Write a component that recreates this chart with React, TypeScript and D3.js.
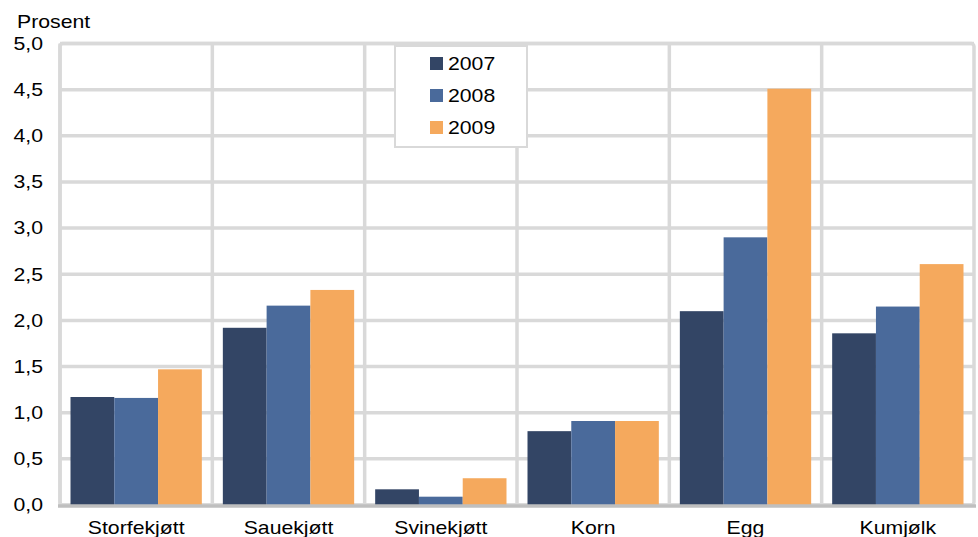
import React from "react";
import * as d3 from "d3";

const categories = ["Storfekjøtt", "Sauekjøtt", "Svinekjøtt", "Korn", "Egg", "Kumjølk"];
const seriesNames = ["2007", "2008", "2009"];
const values2007 = [1.17, 1.92, 0.17, 0.8, 2.1, 1.86];
const values2008 = [1.16, 2.16, 0.09, 0.91, 2.9, 2.15];
const values2009 = [1.47, 2.33, 0.29, 0.91, 4.51, 2.61];
const yTicks = [0, 0.5, 1, 1.5, 2, 2.5, 3, 3.5, 4, 4.5, 5];
const colors = ["#334565", "#4a6a9b", "#f5a95d"];

const SX = 1.18;

function T(props: { x: number; y: number; anchor?: string; children: React.ReactNode }) {
  return (
    <text
      transform={`translate(${props.x},${props.y}) scale(${SX},1)`}
      textAnchor={props.anchor || "start"}
      fontSize={18}
      fill="#000"
    >
      {props.children}
    </text>
  );
}

export default function App() {
  const W = 978, H = 537;
  const left = 60, right = 974, top = 43.5, bottom = 505;
  const series = [values2007, values2008, values2009];
  const x = d3.scaleBand<string>().domain(categories).range([left, right]).padding(0);
  const inner = d3.scaleBand<string>().domain(seriesNames).range([0, x.bandwidth()]).paddingOuter(0.24).paddingInner(0);
  const y = d3.scaleLinear().domain([0, 5]).range([bottom, top]);
  const fmt = (v: number) => v.toFixed(1).replace(".", ",");
  const font = "Liberation Sans, Arial, sans-serif";
  const grid = "#d9d9d9";

  return (
    <svg width={W} height={H} style={{ position: "absolute", left: 0, top: 0 }} fontFamily={font}>
      <rect width={W} height={H} fill="#fff" />
      {yTicks.map((t) => (
        <line key={"h" + t} x1={left} x2={right} y1={y(t)} y2={y(t)} stroke={grid} strokeWidth={3.5} />
      ))}
      {categories.map((c) => (
        <line key={"v" + c} x1={x(c)!} x2={x(c)!} y1={top} y2={bottom} stroke={grid} strokeWidth={3.5} />
      ))}
      <rect x={left} y={top} width={right - left} height={bottom - top} fill="none" stroke={grid} strokeWidth={3.5} rx={3} />
      {categories.map((c, i) =>
        series.map((s, j) => (
          <rect
            key={c + j}
            x={x(c)! + inner(seriesNames[j])!}
            y={y(s[i])}
            width={inner.bandwidth()}
            height={y(0) - y(s[i])}
            fill={colors[j]}
          />
        ))
      )}
      <line x1={left - 2} x2={right + 2} y1={bottom + 1} y2={bottom + 1} stroke="#bfbfbf" strokeWidth={3.5} />
      {yTicks.map((t) => (
        <T key={"t" + t} x={43} y={y(t) + 6.3} anchor="end">
          {fmt(t)}
        </T>
      ))}
      <T x={17} y={28}>Prosent</T>
      {categories.map((c) => (
        <T key={"x" + c} x={x(c)! + x.bandwidth() / 2} y={534} anchor="middle">
          {c}
        </T>
      ))}
      <rect x={395} y={46} width={132} height={101} fill="#fff" stroke={grid} strokeWidth={2} />
      {seriesNames.map((n, j) => (
        <g key={"l" + n}>
          <rect x={430} y={57 + j * 32} width={13} height={13} fill={colors[j]} />
          <T x={448} y={70 + j * 32}>{n}</T>
        </g>
      ))}
    </svg>
  );
}
